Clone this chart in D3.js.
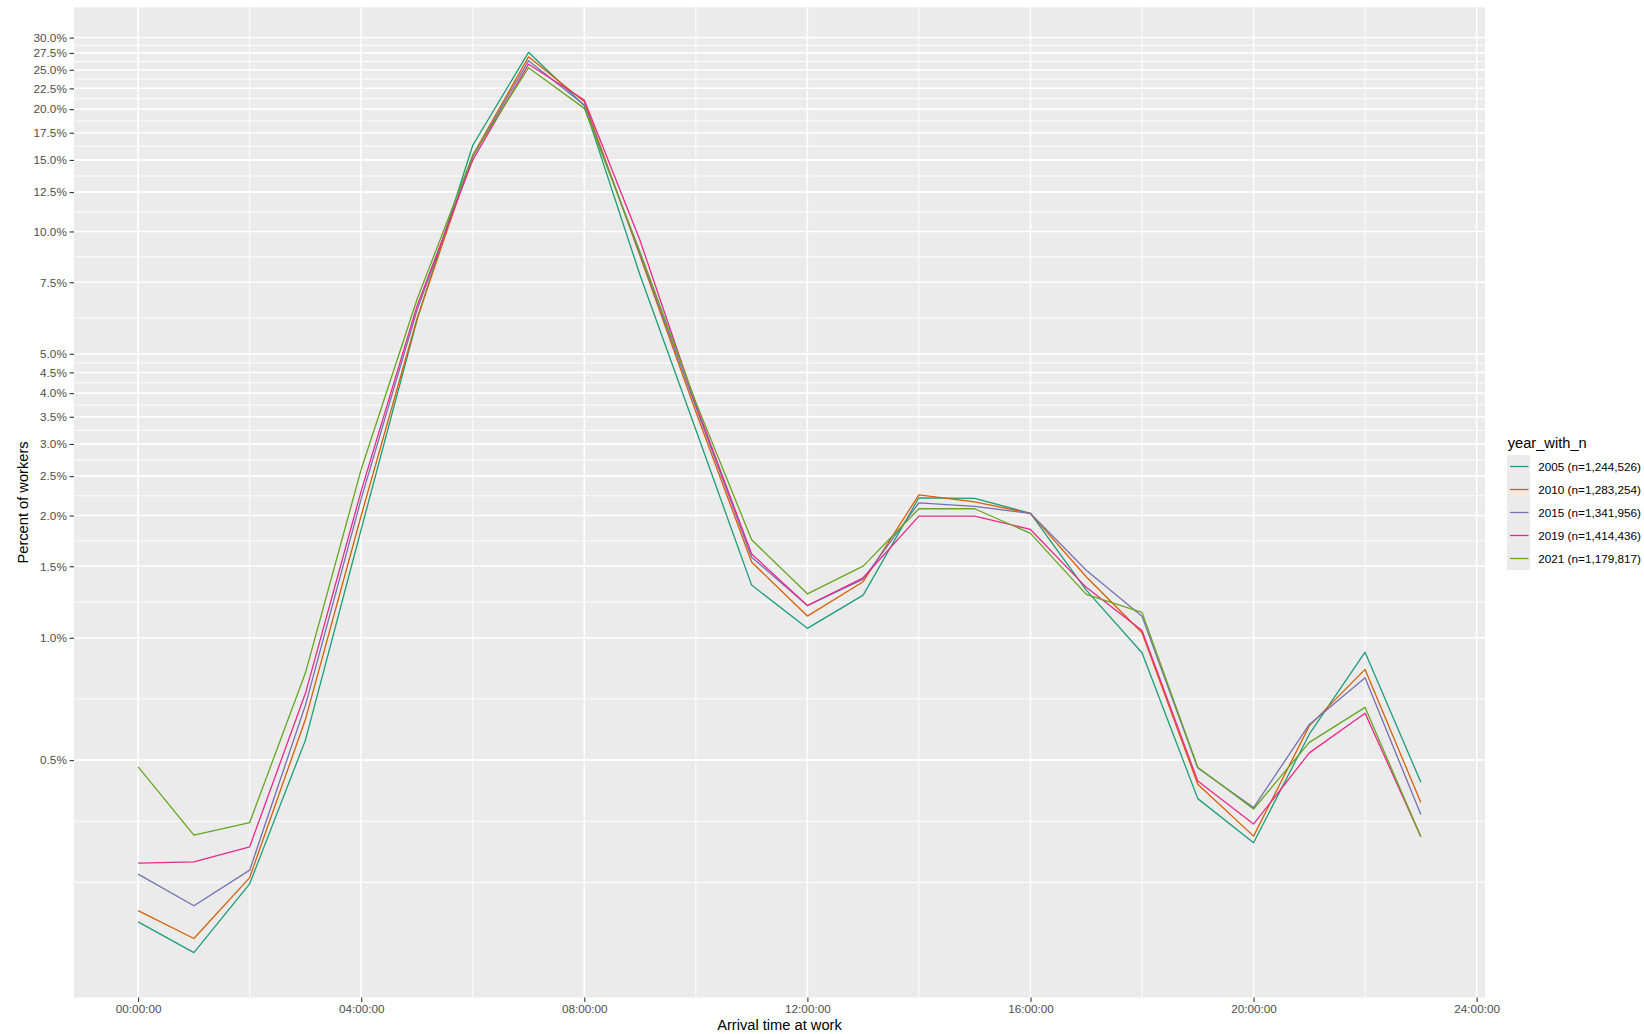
<!DOCTYPE html>
<html>
<head>
<meta charset="utf-8">
<script src="https://cdn.jsdelivr.net/npm/d3@7"></script>
<style>
  body { margin: 0; background: #ffffff; }
  svg { display: block; }
  text { font-family: "Liberation Sans", Arial, Helvetica, sans-serif; }
</style>
</head>
<body>
<svg id="chart" width="1644" height="1034"></svg>
<script>
// Arrival hour at work (0 = midnight)
const hours = [0, 1, 2, 3, 4, 5, 6, 7, 8, 9, 10, 11, 12, 13, 14, 15, 16, 17, 18, 19, 20, 21, 22, 23];

// Legend entries, one per survey year
const yearLabels = [
  "2005 (n=1,244,526)",
  "2010 (n=1,283,254)",
  "2015 (n=1,341,956)",
  "2019 (n=1,414,436)",
  "2021 (n=1,179,817)"
];

// Percent of workers arriving in each hour
const pct2005 = [0.200, 0.168, 0.248, 0.56, 1.85, 6.05, 16.3, 27.6, 20.4, 7.8, 3.25, 1.348, 1.055, 1.274, 2.211, 2.203, 2.024, 1.310, 0.919, 0.402, 0.313, 0.579, 0.922, 0.441];
const pct2010 = [0.213, 0.182, 0.257, 0.63, 2.0, 6.1, 15.4, 26.9, 20.86, 8.7, 3.6, 1.537, 1.131, 1.374, 2.249, 2.161, 2.024, 1.413, 1.029, 0.436, 0.325, 0.607, 0.836, 0.393];
const pct2015 = [0.262, 0.219, 0.268, 0.683, 2.2, 6.4, 15.3, 26.3, 20.47, 8.8, 3.7, 1.579, 1.200, 1.395, 2.149, 2.106, 2.024, 1.467, 1.130, 0.478, 0.382, 0.612, 0.797, 0.3675];
const pct2019 = [0.279, 0.281, 0.306, 0.73, 2.3, 6.55, 15.0, 25.8, 21.06, 9.5, 3.75, 1.608, 1.201, 1.405, 1.993, 1.993, 1.848, 1.331, 1.042, 0.444, 0.348, 0.521, 0.652, 0.324];
const pct2021 = [0.481, 0.327, 0.351, 0.82, 2.6, 6.8, 15.4, 25.3, 20.09, 8.9, 3.8, 1.743, 1.283, 1.501, 2.078, 2.078, 1.807, 1.279, 1.155, 0.480, 0.379, 0.553, 0.674, 0.324];

const seriesValues = [pct2005, pct2010, pct2015, pct2019, pct2021];
const seriesColors = ["#1B9E77", "#D95F02", "#7570B3", "#E7298A", "#66A61E"];

// Axis breaks and labels
const yBreaks = [0.5, 1.0, 1.5, 2.0, 2.5, 3.0, 3.5, 4.0, 4.5, 5.0, 7.5, 10.0, 12.5, 15.0, 17.5, 20.0, 22.5, 25.0, 27.5, 30.0];
const xBreaks = [0, 4, 8, 12, 16, 20, 24];
const xTickLabels = ["00:00:00", "04:00:00", "08:00:00", "12:00:00", "16:00:00", "20:00:00", "24:00:00"];

const svg = d3.select("#chart");
const W = 1644, H = 1034;
const panel = { left: 74, right: 1485, top: 7.3, bottom: 997.6 };

// Scales with a 5% expansion on each side of the data range
const xMin = d3.min(hours), xMax = d3.max(hours);
const xPad = (xMax - xMin) * 0.05;
const x = d3.scaleLinear().domain([xMin - xPad, xMax + xPad]).range([panel.left, panel.right]);

const allVals = seriesValues.flat();
const lMin = Math.log10(d3.min(allVals)), lMax = Math.log10(d3.max(allVals));
const lPad = (lMax - lMin) * 0.05;
const y = d3.scaleLog()
  .domain([Math.pow(10, lMin - lPad), Math.pow(10, lMax + lPad)])
  .range([panel.bottom, panel.top]);

svg.append("rect").attr("width", W).attr("height", H).attr("fill", "#ffffff");

// Panel background
svg.append("rect")
  .attr("x", panel.left).attr("y", panel.top)
  .attr("width", panel.right - panel.left)
  .attr("height", panel.bottom - panel.top)
  .attr("fill", "#EBEBEB");

// Minor breaks: midpoints between major breaks in transformed space
function minorBreaks(breaks, tf, inv, domain) {
  let b = breaks.map(tf);
  const bd = b[1] - b[0];
  const lo = tf(domain[0]), hi = tf(domain[1]);
  if (lo < b[0]) b = [b[0] - bd].concat(b);
  if (hi > b[b.length - 1]) b = b.concat([b[b.length - 1] + bd]);
  const out = [];
  for (let i = 0; i < b.length - 1; i++) { out.push(b[i], (b[i] + b[i + 1]) / 2); }
  out.push(b[b.length - 1]);
  return out.filter(v => v >= lo && v <= hi).map(inv);
}

const yMinor = minorBreaks(yBreaks, Math.log10, v => Math.pow(10, v), y.domain());
const xMinor = minorBreaks(xBreaks, v => v, v => v, x.domain());

const grid = svg.append("g");
grid.selectAll("line.ymin").data(yMinor).join("line")
  .attr("x1", panel.left).attr("x2", panel.right)
  .attr("y1", d => y(d)).attr("y2", d => y(d))
  .attr("stroke", "#ffffff").attr("stroke-width", 0.9);
grid.selectAll("line.xmin").data(xMinor).join("line")
  .attr("y1", panel.top).attr("y2", panel.bottom)
  .attr("x1", d => x(d)).attr("x2", d => x(d))
  .attr("stroke", "#ffffff").attr("stroke-width", 0.9);
grid.selectAll("line.ymaj").data(yBreaks).join("line")
  .attr("x1", panel.left).attr("x2", panel.right)
  .attr("y1", d => y(d)).attr("y2", d => y(d))
  .attr("stroke", "#ffffff").attr("stroke-width", 1.5);
grid.selectAll("line.xmaj").data(xBreaks.filter(d => d >= x.domain()[0] && d <= x.domain()[1])).join("line")
  .attr("y1", panel.top).attr("y2", panel.bottom)
  .attr("x1", d => x(d)).attr("x2", d => x(d))
  .attr("stroke", "#ffffff").attr("stroke-width", 1.5);

// Series lines
const line = d3.line().x((d, i) => x(hours[i])).y(d => y(d));
svg.append("g").selectAll("path").data(seriesValues).join("path")
  .attr("d", d => line(d))
  .attr("fill", "none")
  .attr("stroke", (d, i) => seriesColors[i])
  .attr("stroke-width", 1.3)
  .attr("stroke-linejoin", "round");

// Axes
const yAxis = d3.axisLeft(y)
  .tickValues(yBreaks)
  .tickFormat(d => d.toFixed(1) + "%")
  .tickSize(4.4).tickPadding(2.8);
const gy = svg.append("g").attr("transform", `translate(${panel.left},0)`).call(yAxis);

const xAxis = d3.axisBottom(x)
  .tickValues(xBreaks)
  .tickFormat((d, i) => xTickLabels[i])
  .tickSize(4.4).tickPadding(2.4);
const gx = svg.append("g").attr("transform", `translate(0,${panel.bottom})`).call(xAxis);

[gx, gy].forEach(g => {
  g.select(".domain").remove();
  g.selectAll(".tick line").attr("stroke", "#333333").attr("stroke-width", 1.1);
  g.selectAll(".tick text").attr("fill", "#4D4D4D").attr("font-size", "11.73px")
    .style("font-family", '"Liberation Sans", Arial, sans-serif');
});

// Axis titles
svg.append("text")
  .attr("x", (panel.left + panel.right) / 2).attr("y", 1029.5)
  .attr("text-anchor", "middle").attr("font-size", "14.67px").attr("fill", "#000000")
  .text("Arrival time at work");
svg.append("text")
  .attr("transform", `translate(28,${(panel.top + panel.bottom) / 2}) rotate(-90)`)
  .attr("text-anchor", "middle").attr("font-size", "14.67px").attr("fill", "#000000")
  .text("Percent of workers");

// Legend
const legend = svg.append("g").attr("transform", "translate(1507,455)");
legend.append("text")
  .attr("x", 0.7).attr("y", -7)
  .attr("font-size", "14.67px").attr("fill", "#000000")
  .text("year_with_n");
const keySize = 23;
const items = legend.selectAll("g.item").data(yearLabels).join("g")
  .attr("transform", (d, i) => `translate(0,${i * keySize})`);
items.append("rect")
  .attr("width", keySize).attr("height", keySize)
  .attr("fill", "#EBEBEB");
items.append("line")
  .attr("x1", 3).attr("x2", keySize - 1.5)
  .attr("y1", keySize / 2).attr("y2", keySize / 2)
  .attr("stroke", (d, i) => seriesColors[i]).attr("stroke-width", 1.3);
items.append("text")
  .attr("x", 31.3).attr("y", keySize / 2 + 4.1)
  .attr("font-size", "11.73px").attr("fill", "#000000")
  .text(d => d);
</script>
</body>
</html>
